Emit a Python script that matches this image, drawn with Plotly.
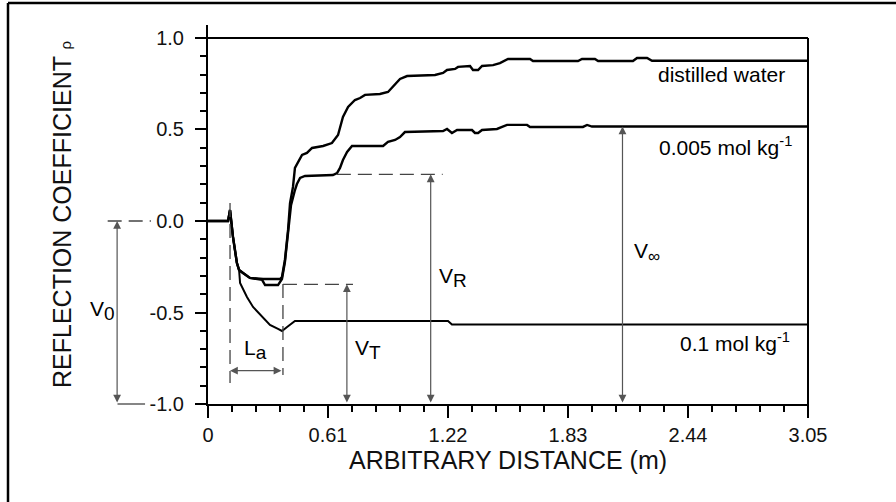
import plotly.graph_objects as go

# ---------------- data ----------------
x_tick_vals = [0, 0.61, 1.22, 1.83, 2.44, 3.05]
x_tick_text = ["0", "0.61", "1.22", "1.83", "2.44", "3.05"]
y_tick_vals = [1.0, 0.5, 0.0, -0.5, -1.0]
y_tick_text = ["1.0", "0.5", "0.0", "-0.5", "-1.0"]

water_x = [0, 0.102, 0.112, 0.127, 0.147, 0.158, 0.178, 0.213, 0.280, 0.366, 0.376, 0.391,
           0.407, 0.417, 0.432, 0.442, 0.478, 0.503, 0.529, 0.585, 0.630, 0.661, 0.686,
           0.712, 0.747, 0.773, 0.798, 0.874, 0.915, 0.940, 0.976, 1.012, 1.154, 1.195,
           1.215, 1.256, 1.271, 1.332, 1.347, 1.373, 1.393, 1.449, 1.484, 1.525, 1.637,
           1.652, 1.881, 1.901, 1.967, 1.983, 2.160, 2.181, 2.232, 2.257, 3.05]
water_y = [0, 0, 0.06, -0.087, -0.230, -0.268, -0.284, -0.311, -0.317, -0.317, -0.306, -0.213,
           -0.049, 0.098, 0.186, 0.290, 0.361, 0.372, 0.399, 0.410, 0.426, 0.470, 0.568,
           0.623, 0.661, 0.672, 0.689, 0.694, 0.705, 0.732, 0.776, 0.792, 0.798, 0.809,
           0.825, 0.831, 0.842, 0.847, 0.825, 0.825, 0.847, 0.852, 0.863, 0.885, 0.885,
           0.874, 0.874, 0.885, 0.885, 0.874, 0.874, 0.891, 0.891, 0.876, 0.876]

mid_x = [0, 0.102, 0.112, 0.127, 0.147, 0.158, 0.178, 0.213, 0.275, 0.290, 0.356, 0.376,
         0.391, 0.407, 0.422, 0.442, 0.452, 0.468, 0.493, 0.635, 0.656, 0.671, 0.686,
         0.707, 0.732, 0.890, 0.915, 0.951, 0.976, 1.001, 1.195, 1.215, 1.240, 1.266,
         1.342, 1.357, 1.373, 1.393, 1.469, 1.495, 1.520, 1.622, 1.637, 1.906, 1.927,
         1.952, 3.05]
mid_y = [0, 0, 0.06, -0.087, -0.230, -0.268, -0.284, -0.311, -0.322, -0.350, -0.350, -0.317,
         -0.224, -0.060, 0.087, 0.169, 0.202, 0.235, 0.246, 0.251, 0.262, 0.290, 0.333,
         0.377, 0.410, 0.410, 0.432, 0.443, 0.459, 0.486, 0.492, 0.503, 0.481, 0.497,
         0.497, 0.481, 0.481, 0.497, 0.503, 0.514, 0.525, 0.525, 0.514, 0.514, 0.525,
         0.516, 0.516]

high_x = [0, 0.102, 0.112, 0.127, 0.147, 0.158, 0.163, 0.198, 0.229, 0.275, 0.315, 0.356,
          0.376, 0.402, 0.427, 0.442, 1.220, 1.240, 3.05]
high_y = [0, 0, 0.06, -0.087, -0.230, -0.268, -0.339, -0.415, -0.470, -0.525, -0.568, -0.590,
          -0.601, -0.579, -0.557, -0.546, -0.546, -0.566, -0.566]

series_labels = ["distilled water", "0.005 mol kg<sup>-1</sup>", "0.1 mol kg<sup>-1</sup>"]

# ---------------- figure ----------------
X0, X1 = 0.0, 3.05
Y0, Y1 = -1.0, 1.071
FONT = "Liberation Sans, Arial, Helvetica, sans-serif"
GRAY = "#555555"


def px_x(v):  # data x -> paper x (for marks drawn outside the plotting area)
    return (v - X0) / (X1 - X0)


def py_y(v):
    return (v - Y0) / (Y1 - Y0)


fig = go.Figure()
fig.add_trace(go.Scatter(x=water_x, y=water_y, mode="lines",
                         line=dict(color="black", width=2.4), showlegend=False))
fig.add_trace(go.Scatter(x=mid_x, y=mid_y, mode="lines",
                         line=dict(color="black", width=2.4), showlegend=False))
fig.add_trace(go.Scatter(x=high_x, y=high_y, mode="lines",
                         line=dict(color="black", width=2), showlegend=False))

shapes = []
# rho = 1 line and right frame line
shapes.append(dict(type="line", xref="paper", yref="y", x0=0, x1=1, y0=1.0, y1=1.0,
                   line=dict(color="black", width=2)))
shapes.append(dict(type="line", xref="paper", yref="paper", x0=1, x1=1,
                   y0=py_y(-1.0) - 12 / 379, y1=py_y(1.0),
                   line=dict(color="black", width=2)))

dash = "14px,7px"
dcol = "#444444"
# V0 dashed guides
shapes.append(dict(type="line", xref="paper", yref="paper", x0=px_x(-0.51), x1=px_x(-0.29),
                   y0=py_y(0.0), y1=py_y(0.0), line=dict(color=dcol, width=1.3, dash=dash)))
shapes.append(dict(type="line", xref="paper", yref="paper", x0=px_x(-0.46), x1=px_x(-0.32),
                   y0=py_y(-1.0), y1=py_y(-1.0), line=dict(color=dcol, width=1.3)))
# La vertical dashed lines
shapes.append(dict(type="line", xref="x", yref="y", x0=0.112, x1=0.112, y0=0.098, y1=-0.885,
                   line=dict(color=dcol, width=1.3, dash=dash)))
shapes.append(dict(type="line", xref="x", yref="y", x0=0.381, x1=0.381, y0=-0.344, y1=-0.842,
                   line=dict(color=dcol, width=1.3, dash=dash)))
# VT and VR dashed horizontals
shapes.append(dict(type="line", xref="x", yref="y", x0=0.381, x1=0.737, y0=-0.346, y1=-0.346,
                   line=dict(color=dcol, width=1.3, dash=dash)))
shapes.append(dict(type="line", xref="x", yref="y", x0=0.655, x1=1.193, y0=0.255, y1=0.255,
                   line=dict(color=dcol, width=1.3, dash=dash)))
# outer frame
shapes.append(dict(type="line", xref="paper", yref="paper", x0=-200 / 600, x1=-200 / 600,
                   y0=-0.3, y1=401 / 379, line=dict(color="black", width=2.5)))
shapes.append(dict(type="line", xref="paper", yref="paper", x0=-200 / 600, x1=1.2,
                   y0=401 / 379, y1=401 / 379, line=dict(color="black", width=2.5)))

annotations = []


def arrow(x, y, ax, ay, xref="x", axref="x"):
    return dict(x=x, y=y, ax=ax, ay=ay, xref=xref, yref="y", axref=axref, ayref="y",
                text="", showarrow=True, arrowhead=2, arrowsize=1.3, arrowwidth=1.2,
                arrowcolor=GRAY, arrowside="end+start", standoff=0, startstandoff=0)


annotations.append(arrow(0.706, -0.346, 0.706, -1.0))
annotations.append(arrow(1.132, 0.255, 1.132, -1.0))
annotations.append(arrow(2.107, 0.516, 2.107, -1.0))
annotations.append(arrow(0.112, -0.818, 0.381, -0.818))
v0 = arrow(px_x(-0.462), 0.0, 0, -1.0, xref="paper", axref="pixel")
annotations.append(v0)

lab_font = dict(family=FONT, size=21, color="black")
SUB = '<sub><span style="font-size:19px">%s</span></sub>'
labels = [
    ("V" + SUB % "0", "paper", px_x(-0.609), -0.49),
    ("L" + SUB % "a", "x", 0.173, -0.70),
    ("V" + SUB % "T", "x", 0.736, -0.70),
    ("V" + SUB % "R", "x", 1.162, -0.31),
    ("V" + '<sub><span style="font-size:17px">∞</span></sub>', "x", 2.157, -0.17),
]
for txt, xr, xv, yv in labels:
    annotations.append(dict(text=txt, x=xv, y=yv, xref=xr, yref="y", showarrow=False,
                            xanchor="left", yanchor="middle", font=lab_font))

annotations.append(dict(text=series_labels[0], x=2.944, y=0.80, xref="x", yref="y",
                        showarrow=False, xanchor="right", yanchor="middle", font=lab_font))
annotations.append(dict(text=series_labels[1], x=2.98, y=0.41, xref="x", yref="y",
                        showarrow=False, xanchor="right", yanchor="middle", font=lab_font))
annotations.append(dict(text=series_labels[2], x=2.97, y=-0.66, xref="x", yref="y",
                        showarrow=False, xanchor="right", yanchor="middle", font=lab_font))

fig.update_layout(
    width=896, height=502,
    margin=dict(l=208, r=88, t=25, b=98),
    paper_bgcolor="white", plot_bgcolor="white",
    font=dict(family=FONT, color="black"),
    shapes=shapes, annotations=annotations, showlegend=False,
)
fig.update_xaxes(
    range=[X0, X1], tickvals=x_tick_vals, ticktext=x_tick_text,
    showgrid=False, zeroline=False, showline=True, linecolor="black", linewidth=2,
    ticks="outside", ticklen=12, tickwidth=2, tickcolor="black",
    tickfont=dict(family=FONT, size=20, color="#111"),
    minor=dict(dtick=0.122, tick0=0, ticks="outside", ticklen=6, tickwidth=2, tickcolor="black"),
    title=dict(text="ARBITRARY DISTANCE (m)", font=dict(family=FONT, size=25, color="#111"),
               standoff=5),
)
fig.update_yaxes(
    range=[Y0, Y1], tickvals=y_tick_vals, ticktext=y_tick_text,
    showgrid=False, zeroline=False, showline=True, linecolor="black", linewidth=2,
    ticks="outside", ticklen=11, tickwidth=2, tickcolor="black", ticklabelstandoff=7,
    tickfont=dict(family=FONT, size=20, color="#111"),
    minor=dict(dtick=0.1, tick0=0, ticks="outside", ticklen=6, tickwidth=2, tickcolor="black"),
    title=dict(text='REFLECTION COEFFICIENT <span style="font-size:15px">ρ</span>',
               font=dict(family=FONT, size=25, color="#111"), standoff=71),
)

fig.write_html("out.html")
